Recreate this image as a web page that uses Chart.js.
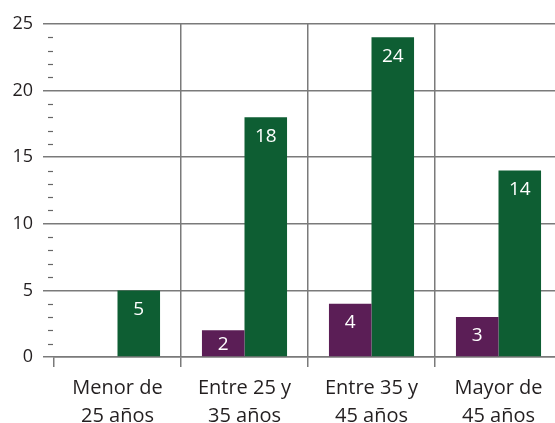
<!DOCTYPE html>
<html>
<head>
<meta charset="utf-8">
<script src="https://cdn.jsdelivr.net/npm/chart.js@4"></script>
<style>
  html, body { margin: 0; padding: 0; background: #fff; overflow: hidden; }
  #wrap { width: 562px; height: 423px; }
</style>
</head>
<body>
<div id="wrap"><canvas id="barCanvas"></canvas></div>
<script>
const categories = [["Menor de", "25 años"], ["Entre 25 y", "35 años"], ["Entre 35 y", "45 años"], ["Mayor de", "45 años"]];
const purpleValues = [null, 2, 4, 3];
const greenValues = [5, 18, 24, 14];
const yTicks = [0, 5, 10, 15, 20, 25];

const gridGray = "#7a7a7a";
const fontFace = "'Open Sans', sans-serif";

// short dashes for every unit between the labelled ticks
const minorTicks = {
    id: "minorTicks",
    afterDraw(chart) {
        const ctx = chart.ctx;
        const y = chart.scales.y;
        ctx.save();
        ctx.strokeStyle = "#666";
        ctx.lineWidth = 1.2;
        for (let v = y.min; v <= y.max; v++) {
            if (yTicks.includes(v)) continue;
            const py = Math.round(y.getPixelForValue(v)) + 0.5;
            ctx.beginPath();
            ctx.moveTo(y.right - 6, py);
            ctx.lineTo(y.right - 1, py);
            ctx.stroke();
        }
        ctx.restore();
    }
};

// white value inside the top of every bar
const barLabels = {
    id: "barLabels",
    afterDatasetsDraw(chart) {
        const ctx = chart.ctx;
        ctx.save();
        ctx.fillStyle = "#fff";
        ctx.font = "19px " + fontFace;
        ctx.textAlign = "center";
        ctx.textBaseline = "middle";
        chart.data.datasets.forEach((ds, i) => {
            chart.getDatasetMeta(i).data.forEach((bar, j) => {
                const v = ds.data[j];
                if (v == null) return;
                const ly = Math.min(bar.y + 19, (bar.y + bar.base) / 2 + 1);
                ctx.fillText(String(v), bar.x, ly);
            });
        });
        ctx.restore();
    }
};

const barChart = new Chart(document.getElementById("barCanvas"), {
    type: "bar",
    data: {
        labels: categories,
        datasets: [{
            label: "Serie 1",
            data: purpleValues,
            backgroundColor: "#5b1e56",
            barPercentage: 1,
            categoryPercentage: 0.67
        }, {
            label: "Serie 2",
            data: greenValues,
            backgroundColor: "#0e5e33",
            barPercentage: 1,
            categoryPercentage: 0.67
        }]
    },
    options: {
        responsive: true,
        maintainAspectRatio: false,
        animation: false,
        layout: { padding: { top: 24, right: 0, left: 0, bottom: 0 } },
        plugins: {
            legend: { display: false },
            tooltip: { enabled: false }
        },
        scales: {
            x: {
                afterFit(scale) { scale.height = 66; },
                grid: {
                    offset: true,
                    color: (c) => c.index === 0 ? "rgba(0,0,0,0)" : gridGray,
                    tickColor: gridGray,
                    lineWidth: 1.5,
                    tickLength: 10
                },
                border: { color: gridGray, width: 1.5 },
                ticks: {
                    color: "#231f20",
                    font: { family: fontFace, size: 20, lineHeight: 1.42 },
                    padding: 7,
                    maxRotation: 0
                }
            },
            y: {
                min: 0,
                max: 25,
                afterBuildTicks(scale) {
                    scale.ticks = yTicks.map(v => ({ value: v }));
                },
                afterFit(scale) { scale.width = 54; },
                grid: {
                    color: gridGray,
                    tickColor: gridGray,
                    lineWidth: 1.5,
                    tickLength: 11
                },
                border: { display: false },
                ticks: {
                    color: "#231f20",
                    font: { family: fontFace, size: 18 },
                    padding: 10
                }
            }
        }
    },
    plugins: [minorTicks, barLabels]
});
</script>
</body>
</html>
